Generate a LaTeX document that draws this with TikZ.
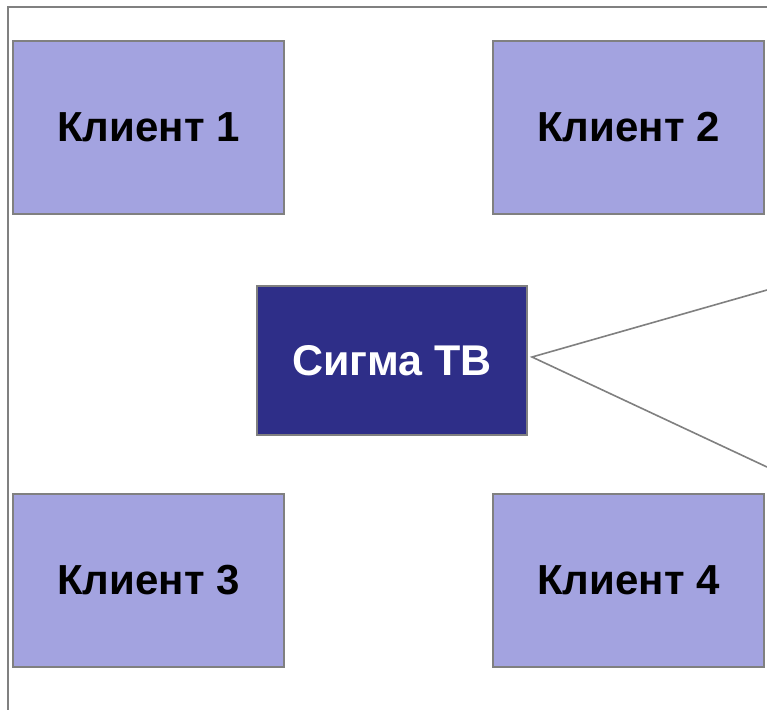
\documentclass[tikz,border=0pt]{standalone}
\usepackage{fontspec}
\setmainfont{Liberation Sans}
\definecolor{light}{HTML}{A3A3E0}
\definecolor{dark}{HTML}{2E2E88}
\definecolor{edge}{HTML}{808080}
\begin{document}
\begin{tikzpicture}[x=1pt,y=-1pt,
  client/.style={draw=edge, line width=2pt, fill=light, minimum width=271pt, minimum height=173pt, inner sep=0pt, font=\fontsize{42}{50}\selectfont\bfseries, text=black},
  hub/.style={draw=edge, line width=2pt, fill=dark, minimum width=270pt, minimum height=149pt, inner sep=0pt, font=\fontsize{43}{51}\selectfont\bfseries, text=white},
  link/.style={draw=edge, line width=1.6pt}]
\useasboundingbox (0,0) rectangle (767,710);
\fill[white] (0,0) rectangle (767,710);
\draw[edge, line width=1.6pt] (767,7) -- (8,7) -- (8,710);
\node[client] (c1) at (148.5,127.5) {Клиент 1};
\node[client] (c2) at (628.5,127.5) {Клиент 2};
\node[client] (c3) at (148.5,580.5) {Клиент 3};
\node[client] (c4) at (628.5,580.5) {Клиент 4};
\node[hub] (s) at (392,360.5) {Сигма ТВ};
\coordinate (apex) at (532,357);
\coordinate (up) at (767,290);
\coordinate (down) at (767,467);
\draw[link] (up) -- (apex) -- (down);
\end{tikzpicture}
\end{document}
